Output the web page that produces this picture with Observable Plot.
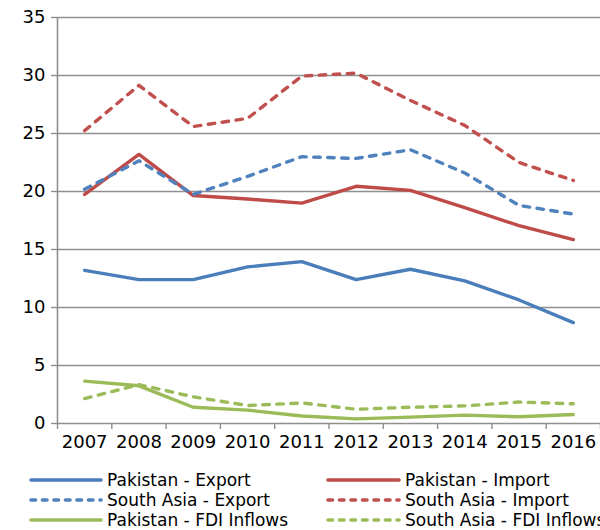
<!DOCTYPE html>
<html><head><meta charset="utf-8">
<script src="https://cdn.jsdelivr.net/npm/d3@7"></script>
<script src="https://cdn.jsdelivr.net/npm/@observablehq/plot@0.6"></script>
<style>
body{margin:0;background:#fff;}
#wrap{position:relative;width:600px;height:530px;overflow:hidden;font-family:"DejaVu Sans",sans-serif;color:#000;}
#title{position:absolute;top:-20px;left:255px;font-weight:bold;font-size:19px;white-space:nowrap;line-height:19px;}
#chart{position:absolute;top:0;left:0;}
.leg{position:absolute;display:flex;align-items:center;font-size:17px;white-space:nowrap;height:20px;}
.leg svg{margin-right:4px;}
</style></head><body>
<div id="wrap"><div id="chart"></div><div id="title">(percentage of GDP)</div><div id="legend"></div></div>
<script>
const years = [2007, 2008, 2009, 2010, 2011, 2012, 2013, 2014, 2015, 2016];
const pakistanExport = [13.2, 12.4, 12.4, 13.5, 13.95, 12.4, 13.3, 12.3, 10.65, 8.7];
const pakistanImport = [19.75, 23.2, 19.65, 19.35, 19.0, 20.45, 20.1, 18.6, 17.05, 15.85];
const southAsiaExport = [20.2, 22.65, 19.75, 21.3, 23.0, 22.85, 23.6, 21.6, 18.8, 18.05];
const southAsiaImport = [25.25, 29.15, 25.6, 26.3, 29.95, 30.2, 27.85, 25.7, 22.5, 20.95];
const pakistanFDI = [3.65, 3.25, 1.4, 1.15, 0.65, 0.4, 0.55, 0.72, 0.58, 0.78];
const southAsiaFDI = [2.15, 3.35, 2.3, 1.55, 1.77, 1.23, 1.4, 1.52, 1.85, 1.7];
const yTicks = [0, 5, 10, 15, 20, 25, 30, 35];
const seriesNames = ["Pakistan - Export", "Pakistan - Import", "South Asia - Export", "South Asia - Import", "Pakistan - FDI Inflows", "South Asia - FDI Inflows"];
const seriesValues = [pakistanExport, pakistanImport, southAsiaExport, southAsiaImport, pakistanFDI, southAsiaFDI];
const seriesColors = ["#4A7EBB", "#BE4B48", "#4F81BD", "#C0504D", "#9BBB59", "#9BBB59"];
const seriesDashed = [false, false, true, true, false, true];
const chartDash = "6.5,7.5";
const legendDash = "4.5,7";

const boundaries = years.map(y => y - 0.5).concat([years[years.length - 1] + 0.5]);
const gridColor = "#8f8f8f";

const lineMarks = seriesNames.map((name, k) => Plot.line(
  years.map((yr, i) => ({year: yr, value: seriesValues[k][i]})),
  {x: "year", y: "value", stroke: seriesColors[k], strokeWidth: 3.4,
   strokeDasharray: seriesDashed[k] ? chartDash : undefined, strokeLinejoin: "round", strokeLinecap: "round"}
));

const plot = Plot.plot({
  width: 600, height: 462,
  marginLeft: 57, marginRight: 0, marginTop: 17, marginBottom: 39,
  style: {fontFamily: '"DejaVu Sans", sans-serif', fontSize: "18px", color: "#000", background: "#fff", overflow: "visible"},
  x: {domain: [boundaries[0], boundaries[boundaries.length - 1]], axis: null},
  y: {domain: [0, 35], axis: null},
  marks: [
    Plot.ruleY(yTicks, {stroke: gridColor, strokeWidth: 1.4}),
    Plot.ruleX([boundaries[0]], {stroke: gridColor, strokeWidth: 1.6}),
    Plot.axisY({ticks: yTicks, tickSize: 6, tickPadding: 6, stroke: gridColor, strokeWidth: 1.4, tickFormat: d => String(d), fill: "#000", label: null}),
    Plot.axisX({ticks: boundaries, tickSize: 6, tickFormat: () => "", stroke: gridColor, strokeWidth: 1.4, label: null}),
    Plot.axisX({ticks: years, tickSize: 0, tickPadding: 12, tickFormat: d => String(d), fill: "#000", label: null}),
    ...lineMarks
  ]
});
document.getElementById("chart").appendChild(plot);

// legend (two columns, row-wise order)
const legend = document.getElementById("legend");
const colX = [[29, 107], [326, 405]];
const rowY = [470, 490, 510];
seriesNames.forEach((name, k) => {
  const col = k % 2, row = Math.floor(k / 2);
  const div = document.createElement("div");
  div.className = "leg";
  div.style.left = colX[col][0] + "px";
  div.style.top = rowY[row] + "px";
  const w = colX[col][1] - colX[col][0] - 4;
  div.innerHTML = `<svg width="${w}" height="8"><line x1="2" x2="${w - 2}" y1="4" y2="4" stroke="${seriesColors[k]}" stroke-width="3.6" stroke-linecap="round" ${seriesDashed[k] ? `stroke-dasharray="${legendDash}"` : ''}/></svg><span>${name}</span>`;
  legend.appendChild(div);
});
</script>
</body></html>
